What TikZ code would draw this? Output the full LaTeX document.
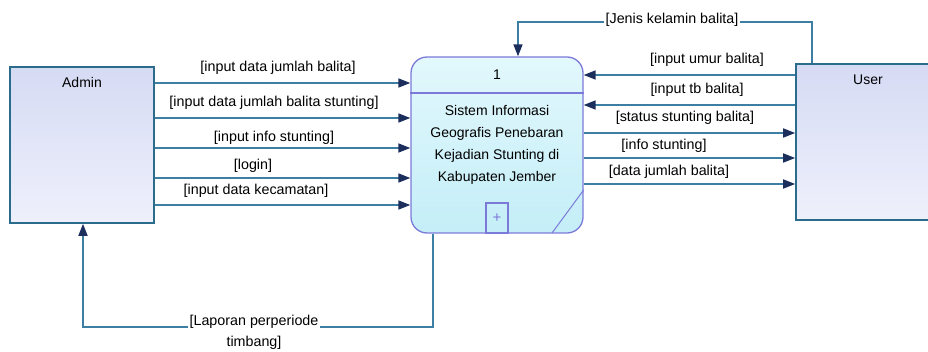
\documentclass[tikz,border=0pt]{standalone}
\usepackage{fontspec}
\setmainfont{Liberation Sans}
\usetikzlibrary{arrows.meta, positioning}

\definecolor{flowcol}{HTML}{3C7FA3}
\definecolor{tipcol}{HTML}{1B2E5C}
\definecolor{entborder}{HTML}{2B6B8C}
\definecolor{entlight}{HTML}{EEF0FB}
\definecolor{entdark}{HTML}{D6DBF4}
\definecolor{procborder}{HTML}{7C7AD8}
\definecolor{proclight}{HTML}{E2F8FC}
\definecolor{procdark}{HTML}{C4EEF8}

\tikzset{
  entity/.style={draw=entborder, line width=1.6pt, top color=entdark, bottom color=entlight,
    minimum width=144pt, minimum height=156pt, inner sep=0pt},
  procbox/.style={draw=procborder, line width=1.3pt, rounded corners=16pt, top color=proclight,
    bottom color=procdark, minimum width=172pt, minimum height=176pt, inner sep=0pt},
  flow/.style={draw=flowcol, line width=1.6pt, -{Triangle[length=12pt,width=9pt,color=tipcol]}},
  flowlbl/.style={fill=white, inner sep=1.5pt, font=\fontsize{14.3}{21}\selectfont},
  txt/.style={font=\fontsize{14}{22}\selectfont, inner sep=0pt}
}

\begin{document}
\begin{tikzpicture}[x=1pt, y=-1pt]
	\useasboundingbox (0,0) rectangle (928,352);
	\clip (0,0) rectangle (928,352);

	% external entities
	\node[entity] (admin) at (82,145) {};
	\node[txt, below=11pt of admin.north] (adminlbl) {Admin};
	\node[entity] (user) at (868,142) {};
	\node[txt, below=11pt of user.north] (userlbl) {User};

	% process 1
	\node[procbox] (proc) at (497,145) {};
	\draw[procborder, line width=1.3pt] (proc.west |- 0,93) -- (proc.east |- 0,93);
	\node[txt] (procnum) at (497,75) {1};
	\node[txt, align=center] (procname) at (497,145) {Sistem Informasi\\Geografis Penebaran\\Kejadian Stunting di\\Kabupaten Jember};
	\node[draw=procborder, line width=1.3pt, minimum width=22pt, minimum height=30pt, anchor=south,
	  inner sep=0pt, text=procborder, font=\fontsize{15}{15}\selectfont] (procplus) at (proc.south) {+};
	\draw[procborder, line width=1pt] (proc.east |- 0,190) -- (552,233);

	% admin -> process
	\draw[flow] (admin.east |- 0,83) -- (proc.west |- 0,83);
	\draw[flow] (admin.east |- 0,118) -- (proc.west |- 0,118);
	\draw[flow] (admin.east |- 0,148) -- (proc.west |- 0,148);
	\draw[flow] (admin.east |- 0,178) -- (proc.west |- 0,178);
	\draw[flow] (admin.east |- 0,205) -- (proc.west |- 0,205);
	\node[flowlbl] (ljumlah) at (278,68) {[input data jumlah balita]};
	\node[flowlbl] (lstunting) at (274,103) {[input data jumlah balita stunting]};
	\node[flowlbl] (linfo) at (274,138) {[input info stunting]};
	\node[flowlbl] (llogin) at (253,166) {[login]};
	\node[flowlbl] (lkec) at (256,191) {[input data kecamatan]};

	% user <-> process
	\draw[flow] (user.west |- 0,75) -- (proc.east |- 0,75);
	\draw[flow] (user.west |- 0,105) -- (proc.east |- 0,105);
	\draw[flow] (proc.east |- 0,133) -- (user.west |- 0,133);
	\draw[flow] (proc.east |- 0,158) -- (user.west |- 0,158);
	\draw[flow] (proc.east |- 0,184) -- (user.west |- 0,184);
	\node[flowlbl] (lumur) at (707,60) {[input umur balita]};
	\node[flowlbl] (ltb) at (697,90) {[input tb balita]};
	\node[flowlbl] (lstatus) at (685,118) {[status stunting balita]};
	\node[flowlbl] (linfou) at (664,146) {[info stunting]};
	\node[flowlbl] (ldata) at (669,172) {[data jumlah balita]};

	% loops over the top and bottom
	\draw[flow] (user.north -| 812,0) |- (518,22) -- (proc.north -| 518,0);
	\node[flowlbl] (ljenis) at (672,20) {[Jenis kelamin balita]};
	\draw[flow] (proc.south -| 433,0) |- (83,327) -- (admin.south -| 83,0);
	\node[flowlbl, align=center] (llaporan) at (254,332) {[Laporan perperiode\\timbang]};
\end{tikzpicture}
\end{document}
